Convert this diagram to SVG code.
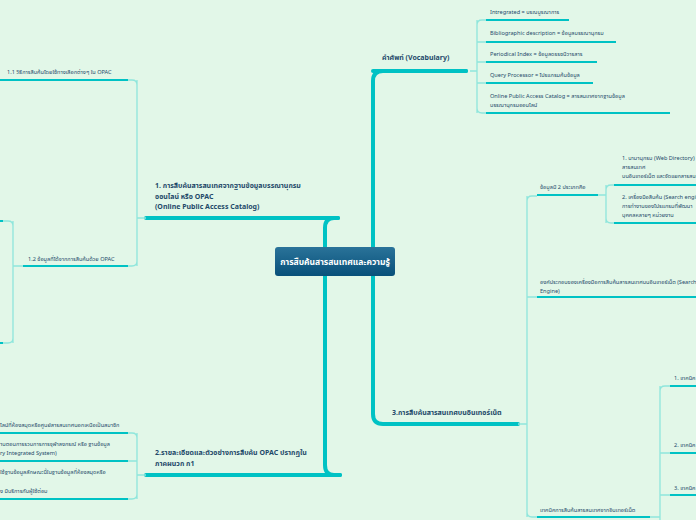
<svg xmlns="http://www.w3.org/2000/svg" width="696" height="520" viewBox="0 0 696 520">
<defs>
<linearGradient id="g" x1="0" y1="0" x2="0" y2="1"><stop offset="0" stop-color="#2a7399"/><stop offset="1" stop-color="#08507a"/></linearGradient>
<style>
text{font-family:"Noto Sans","Noto Sans Thai","DejaVu Sans",sans-serif;fill:#1f4a6a}
.s{font-size:5.6px}
.m{font-size:7px;font-weight:bold}
.t{stroke:#00c2c4;stroke-width:4;stroke-linecap:round;fill:none}
.u{stroke:#00c2c4;stroke-width:2;fill:none}
.c{stroke:#8fe6dc;stroke-width:1.3;fill:none}
</style>
</defs>
<rect width="696" height="520" fill="#e2f7e8"/>
<g id="connectors">
<path class="t" d="M338 218 H334 Q325 218 325 228 V465 Q325 475 334 475 H340"/>
<path class="t" d="M466 71 H383 Q373 71 373 81 V414 Q373 424 383 424 H388"/>
<path class="t" d="M146 218 H338"/><path class="t" d="M146 475 H340"/>
<path class="t" d="M373 71 H466"/><path class="t" d="M388 424 H518"/>
<path class="c" d="M470 71 H477 M477 25 Q477 20 482 20 H486 M477 108 Q477 113 482 113 H486 M477 20 V113 M477 42 H486 M477 62 H486 M477 83 H486"/>
<path class="u" d="M486 20 H569 M486 42 H616 M486 62 H597 M486 83 H593 M486 113 H670"/>
<path class="c" d="M518 424 H527 M527 201 Q527 196 532 196 H537 M527 512 Q527 517 532 517 H537 M527 196 V517 M527 297 H537"/>
<path class="u" d="M537 195 H598 M537 297 H696 M537 517 H650"/>
<path class="c" d="M598 195 H606 M606 190 Q606 185 611 185 H614 M606 218 Q606 223 611 223 H614 M606 185 V223"/>
<path class="u" d="M614 185 H696 M614 223 H696"/>
<path class="c" d="M650 517 H660 M660 391 Q660 386 665 386 H670 M660 386 V520 M660 453 H670 M660 495 H670"/>
<path class="u" d="M670 386 H696 M670 453 H696 M670 495 H696"/>
<path class="c" d="M146 218 H137 M137 85 Q137 80 132 80 H128 M137 261 Q137 266 132 266 H128 M137 80 V266"/>
<path class="u" d="M0 80 H128 M23 266 H128"/>
<path class="c" d="M23 266 H13 M13 226 Q13 221 8 221 H0 M13 338 Q13 343 8 343 H0 M13 221 V343"/>
<path class="u" d="M0 221 H3 M0 343 H3"/>
<path class="c" d="M146 475 H137 M137 438 Q137 433 132 433 H128 M137 494 Q137 499 132 499 H128 M137 433 V499 M137 461 H128"/>
<path class="u" d="M0 433 H128 M0 461 H128 M0 499 H128"/>
</g>
<g id="center"><rect x="275" y="247" width="120" height="29" rx="3" fill="url(#g)"/><text x="335" y="265" text-anchor="middle" style="fill:#fff;font-size:8.5px;font-weight:bold">การสืบค้นสารสนเทศและความรู้</text></g>
<g id="vocab"><text class="m" x="382" y="60">คำศัพท์ (Vocabulary)</text>
<text class="s" x="490" y="14">Intregrated = บรณบูรณาการ</text>
<text class="s" x="490" y="35">Bibliographic description = ข้อมูลบรรณานุกรม</text>
<text class="s" x="490" y="56">Periodical Index = ข้อมูลดรรชนีวารสาร</text>
<text class="s" x="490" y="77">Query Processor = โปรแกรมค้นข้อมูล</text>
<text class="s" x="490" y="98">Online Public Access Catalog = สารสนเทศจากฐานข้อมูล</text>
<text class="s" x="490" y="107">บรรณานุกรมออนไลน์</text></g>
<g id="n3"><text class="m" x="392" y="415">3.การสืบค้นสารสนเทศบนอินเทอร์เน็ต</text>
<text class="s" x="540" y="189">ข้อมูลมี 2 ประเภทคือ</text>
<text class="s" x="622" y="160">1. นามานุกรม (Web Directory)</text><text class="s" x="622" y="169">สารสนเทศ</text><text class="s" x="622" y="178">บนอินเทอร์เน็ต และจัดแยกสารสนเทศ</text>
<text class="s" x="622" y="199">2. เครื่องมือสืบค้น (Search engine)</text><text class="s" x="622" y="208">การทำงานของโปรแกรมที่พัฒนา</text><text class="s" x="622" y="217">บุคคลหลายๆ หน่วยงาน</text>
<text class="s" x="540" y="284">องค์ประกอบของเครื่องมือการสืบค้นสารสนเทศบนอินเทอร์เน็ต (Search</text><text class="s" x="540" y="293">Engine)</text>
<text class="s" x="540" y="512">เทคนิคการสืบค้นสารสนเทศจากอินเทอร์เน็ต</text>
<text class="s" x="674" y="380">1. เทคนิค</text><text class="s" x="674" y="447">2. เทคนิค</text><text class="s" x="674" y="490">3. เทคนิค</text></g>
<g id="n1"><text class="m" x="155" y="188">1. การสืบค้นสารสนเทศจากฐานข้อมูลบรรณานุกรม</text><text class="m" x="155" y="199">ออนไลน์ หรือ OPAC</text><text class="m" x="155" y="209">(Online Public Access Catalog)</text>
<text class="s" x="7" y="74">1.1 วิธีการสืบค้นโดยใช้ทางเลือกต่างๆ ใน OPAC</text>
<text class="s" x="28" y="261">1.2 ข้อมูลที่ได้จากการสืบค้นด้วย OPAC</text></g>
<g id="n2"><text class="m" x="155" y="455">2.รายละเอียดและตัวอย่างการสืบค้น OPAC ปรากฏใน</text><text class="m" x="155" y="466">ภาคผนวก ก1</text>
<text class="s" x="0" y="427">ไลน์ที่ห้องสมุดหรือศูนย์สารสนเทศนอกเหนือเป็นสมาชิก</text>
<text class="s" x="0" y="446">านตอนการรวบการการจุฬาลงกรณ์ หรือ ฐานข้อมูล</text><text class="s" x="0" y="455">ry Integrated System)</text>
<text class="s" x="0" y="474">ใช้ฐานข้อมูลลักษณะนี้ในฐานข้อมูลที่ห้องสมุดหรือ</text>
<text class="s" x="0" y="493">ง มีบริการกับผู้ใช้ต่อม</text></g>
</svg>
